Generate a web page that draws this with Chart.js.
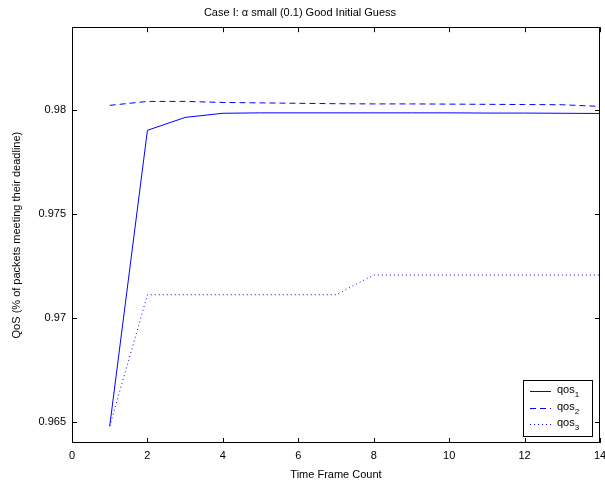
<!DOCTYPE html>
<html>
<head>
<meta charset="utf-8">
<script src="https://cdn.jsdelivr.net/npm/chart.js@4/dist/chart.umd.min.js"></script>
<style>
  html, body { margin: 0; padding: 0; background: #fff; }
  #wrap { width: 605px; height: 489px; }
</style>
</head>
<body>
<div id="wrap"><canvas id="qos-chart" width="605" height="489"></canvas></div>
<script>
// data
const frames = [1, 2, 3, 4, 5, 6, 7, 8, 9, 10, 11, 12, 13, 14];
const qos1 = [0.96481, 0.97904, 0.97966, 0.97986, 0.97988, 0.97988, 0.97988, 0.97988, 0.97988, 0.97988, 0.97987, 0.97987, 0.97986, 0.97985];
const qos2 = [0.98024, 0.98043, 0.98043, 0.98038, 0.98036, 0.98034, 0.98032, 0.98031, 0.98031, 0.98030, 0.98029, 0.98028, 0.98027, 0.98019];
const qos3 = [0.96481, 0.97113, 0.97113, 0.97113, 0.97113, 0.97113, 0.97113, 0.97208, 0.97208, 0.97208, 0.97208, 0.97208, 0.97208, 0.97208];
const xTicks = [0, 2, 4, 6, 8, 10, 12, 14];
const yTicks = [0.965, 0.97, 0.975, 0.98];

const FONT = "'Liberation Sans', Arial, Helvetica, sans-serif";
const BLUE = "#0000ff";

function toPoints(vals) {
  return vals.map((v, i) => ({ x: frames[i], y: v }));
}

// matlab style: box round the axes, ticks pointing inwards on all four sides
const boxTicks = {
  id: "boxTicks",
  afterDatasetsDraw(chart) {
    const { ctx, chartArea: a, scales } = chart;
    const len = 5;
    ctx.save();
    ctx.strokeStyle = "#000";
    ctx.lineWidth = 1;
    ctx.beginPath();
    xTicks.forEach(t => {
      const px = Math.round(scales.x.getPixelForValue(t)) + 0.5;
      ctx.moveTo(px, a.bottom); ctx.lineTo(px, a.bottom - len);
      ctx.moveTo(px, a.top); ctx.lineTo(px, a.top + len);
    });
    yTicks.forEach(t => {
      const py = Math.round(scales.y.getPixelForValue(t)) + 0.5;
      ctx.moveTo(a.left, py); ctx.lineTo(a.left + len, py);
      ctx.moveTo(a.right, py); ctx.lineTo(a.right - len, py);
    });
    ctx.stroke();
    ctx.strokeRect(Math.round(a.left) + 0.5, Math.round(a.top) + 0.5,
                   Math.round(a.right - a.left) - 1, Math.round(a.bottom - a.top) - 1);
    ctx.restore();
  }
};

// legend box in the lower right corner, with subscripted labels
const cornerLegend = {
  id: "cornerLegend",
  afterDatasetsDraw(chart) {
    const { ctx, chartArea: a } = chart;
    const w = 69, h = 56;
    const x0 = Math.round(a.right) - 8 - w, y0 = Math.round(a.bottom) - 7 - h;
    ctx.save();
    ctx.fillStyle = "#fff";
    ctx.fillRect(x0, y0, w, h);
    ctx.strokeStyle = "#000";
    ctx.lineWidth = 1;
    ctx.strokeRect(x0 + 0.5, y0 + 0.5, w, h);
    chart.data.datasets.forEach((ds, i) => {
      const y = y0 + 11 + i * 16.5;
      ctx.strokeStyle = BLUE;
      ctx.setLineDash(ds.borderDash || []);
      ctx.beginPath();
      ctx.moveTo(x0 + 7, Math.round(y) + 0.5);
      ctx.lineTo(x0 + 28, Math.round(y) + 0.5);
      ctx.stroke();
      ctx.setLineDash([]);
      ctx.fillStyle = "#000";
      ctx.textBaseline = "middle";
      ctx.font = "11px " + FONT;
      ctx.fillText("qos", x0 + 34, y - 1);
      const tw = ctx.measureText("qos").width;
      ctx.font = "8px " + FONT;
      ctx.fillText(String(i + 1), x0 + 34 + tw, y + 4);
    });
    ctx.restore();
  }
};

const datasets = [
  { label: "qos1", data: toPoints(qos1), borderColor: BLUE, borderWidth: 1 },
  { label: "qos2", data: toPoints(qos2), borderColor: BLUE, borderWidth: 1, borderDash: [6, 4] },
  { label: "qos3", data: toPoints(qos3), borderColor: BLUE, borderWidth: 1, borderDash: [1, 3] },
];

const qos_config = {
  type: "line",
  data: { datasets: datasets },
  options: {
    responsive: false,
    animation: false,
    elements: { point: { radius: 0 }, line: { tension: 0 } },
    layout: { padding: { left: 0, right: 5, top: 0, bottom: 0 } },
    plugins: {
      legend: { display: false },
      tooltip: { enabled: false },
      title: {
        display: true,
        text: "Case I: \u03b1 small (0.1) Good Initial Guess",
        color: "#000",
        font: { family: FONT, size: 11, weight: "normal" },
        padding: { top: 6, bottom: 8 },
      },
    },
    scales: {
      x: {
        type: "linear",
        min: 0,
        max: 14,
        afterBuildTicks: s => { s.ticks = xTicks.map(v => ({ value: v })); },
        afterFit: s => { s.height = 46; s.paddingLeft = 0; s.paddingRight = 0; },
        grid: { display: false, drawTicks: false },
        border: { display: false },
        ticks: { color: "#000", font: { family: FONT, size: 11 }, padding: 6, maxRotation: 0, callback: v => String(v) },
        title: { display: true, text: "Time Frame Count", color: "#000", font: { family: FONT, size: 11 }, padding: { top: 4, bottom: 7 } },
      },
      y: {
        type: "linear",
        min: 0.964,
        max: 0.984,
        afterBuildTicks: s => { s.ticks = yTicks.map(v => ({ value: v })); },
        afterFit: s => { s.width = 72; },
        grid: { display: false, drawTicks: false },
        border: { display: false },
        ticks: { color: "#000", font: { family: FONT, size: 11 }, padding: 6, callback: v => String(v) },
        title: { display: true, text: "QoS (% of packets meeting their deadline)", color: "#000", font: { family: FONT, size: 11 }, padding: { top: 10, bottom: 2 } },
      },
    },
  },
  plugins: [boxTicks, cornerLegend],
};

const qosChart = new Chart(document.getElementById("qos-chart").getContext("2d"), qos_config);
</script>
</body>
</html>
